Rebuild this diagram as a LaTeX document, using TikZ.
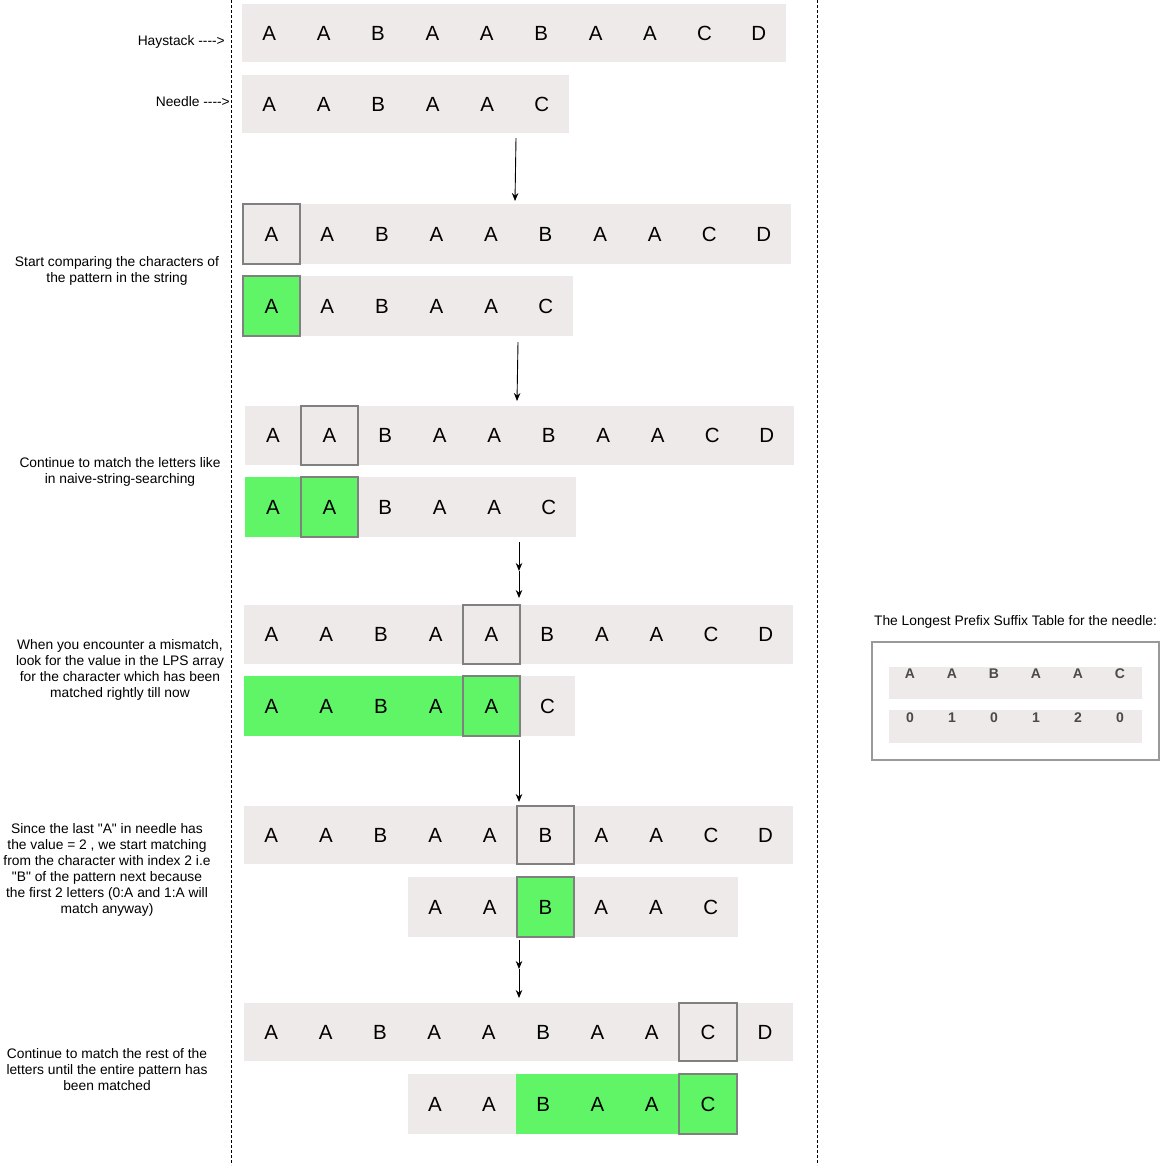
\documentclass[tikz,border=0pt]{standalone}
\usepackage{fontspec}
\setmainfont{Liberation Sans}[Ligatures=TeXOff]
\usetikzlibrary{arrows.meta}
\definecolor{cellgray}{HTML}{EEEAE9}
\definecolor{matchgreen}{HTML}{60F566}
\definecolor{boxgray}{HTML}{808080}
\definecolor{lpstext}{HTML}{4A4A4A}
\tikzset{
  let/.style={inner sep=0pt, font=\fontsize{20.5}{24}\selectfont},
  bg/.style={fill=cellgray, draw=none},
  gr/.style={fill=matchgreen, draw=none},
  hibox/.style={draw=boxgray, line width=2pt, inner sep=0pt},
  lbl/.style={align=center, inner sep=0pt, font=\fontsize{13.8}{16}\selectfont},
  lpsch/.style={inner sep=0pt, text=lpstext, font=\fontsize{14}{16}\selectfont\bfseries},
  conn/.style={-{Stealth[length=8pt,width=6.5pt]}, line width=0.9pt},
  sep/.style={line width=1pt, dash pattern=on 3pt off 2pt},
}
\begin{document}
\begin{tikzpicture}[x=1pt,y=-1pt]
\useasboundingbox (0,0) rectangle (1172,1165);
% separators
\draw[sep] (231,0) -- (231,1165);
\draw[sep] (817,0) -- (817,1165);

% ---------- Row 1: haystack ----------
\path[bg] (242,4) rectangle (786,62);
\foreach \x/\l [count=\i] in {269.2/A,323.6/A,378.0/B,432.4/A,486.8/A,541.2/B,595.6/A,650.0/A,704.4/C,758.8/D}
  \node[let] (ha\i) at (\x,33) {\l};
% ---------- Row 2: needle ----------
\path[bg] (242,75) rectangle (569,133);
\foreach \x/\l [count=\i] in {269.2/A,323.7/A,378.2/B,432.7/A,487.2/A,541.7/C}
  \node[let] (na\i) at (\x,104) {\l};

\node[lbl, anchor=east] (lh) at (225,42) {Haystack ---->};
\node[lbl, anchor=east] (ln) at (230,102) {Needle ---->};

\coordinate (a1s) at (516,138); \coordinate (a1e) at (515,201);
\draw[conn] (a1s) -- (a1e);

% ---------- Row 3 ----------
\path[bg] (243,204) rectangle (791,264);
\node[hibox, minimum width=57pt, minimum height=60pt] (hb3) at (271.5,234) {};
\node[let] (hc1) at (271.5,234) {A};
\foreach \x/\l [count=\i from 2] in {327.3/A,381.9/B,436.4/A,491.0/A,545.5/B,600.1/A,654.7/A,709.2/C,763.8/D}
  \node[let] (hc\i) at (\x,234) {\l};
% ---------- Row 4 ----------
\path[bg] (300,276) rectangle (573,336);
\node[hibox, fill=matchgreen, minimum width=57pt, minimum height=60pt] (nb4) at (271.5,306) {};
\node[let] (nc1) at (271.5,306) {A};
\foreach \x/\l [count=\i from 2] in {327.3/A,381.9/B,436.5/A,491.1/A,545.7/C}
  \node[let] (nc\i) at (\x,306) {\l};

\node[lbl] (l3) at (117,271) {Start comparing the characters of\\the pattern in the string};

\coordinate (a2s) at (518,342); \coordinate (a2e) at (517,401);
\draw[conn] (a2s) -- (a2e);

% ---------- Row 5 ----------
\path[bg] (245,406) rectangle (794,465);
\node[hibox, minimum width=57pt, minimum height=59pt] (hb5) at (329.5,435.5) {};
\node[let] (hd1) at (273,435.5) {A};
\node[let] (hd2) at (329.5,435.5) {A};
\foreach \x/\l [count=\i from 3] in {385.3/B,439.8/A,494.3/A,548.8/B,603.3/A,657.8/A,712.3/C,766.8/D}
  \node[let] (hd\i) at (\x,435.5) {\l};
% ---------- Row 6 ----------
\path[bg] (358,477) rectangle (576,537);
\path[gr] (245,477) rectangle (301,537);
\node[hibox, fill=matchgreen, minimum width=57pt, minimum height=60pt] (nb6) at (329.5,507) {};
\node[let] (nd1) at (273,507) {A};
\node[let] (nd2) at (329.5,507) {A};
\foreach \x/\l [count=\i from 3] in {385.3/B,439.8/A,494.3/A,548.8/C}
  \node[let] (nd\i) at (\x,507) {\l};

\node[lbl] (l5) at (120,472) {Continue to match the letters like\\in naive-string-searching};

\coordinate (a3s) at (519,542); \coordinate (a3m) at (519,571); \coordinate (a3e) at (519,598);
\draw[conn] (a3s) -- (a3m);
\draw[conn] (a3m) -- (a3e);

% ---------- Row 7 ----------
\path[bg] (244,605) rectangle (793,664);
\node[hibox, minimum width=57pt, minimum height=59pt] (hb7) at (491.5,634.5) {};
\foreach \x/\l [count=\i] in {271.4/A,326.1/A,380.9/B,435.6/A,491.5/A,547.3/B,601.9/A,656.5/A,711.1/C,765.7/D}
  \node[let] (he\i) at (\x,634.5) {\l};
% ---------- Row 8 ----------
\path[gr] (244,676) rectangle (463,736);
\path[bg] (520,676) rectangle (575,736);
\node[hibox, fill=matchgreen, minimum width=57pt, minimum height=60pt] (nb8) at (491.5,706) {};
\foreach \x/\l [count=\i] in {271.4/A,326.1/A,380.9/B,435.6/A,491.5/A,547.5/C}
  \node[let] (ne\i) at (\x,706) {\l};

\node[lbl] (l7) at (120,670) {When you encounter a mismatch,\\look for the value in the LPS array\\for the character which has been\\matched rightly till now};

\coordinate (a4s) at (519,740); \coordinate (a4e) at (519,802);
\draw[conn] (a4s) -- (a4e);

% ---------- Row 9 ----------
\path[bg] (244,806) rectangle (793,864);
\node[hibox, minimum width=57pt, minimum height=58pt] (hb9) at (545.5,835) {};
\foreach \x/\l [count=\i] in {271.3/A,325.9/A,380.5/B,435.1/A,489.7/A,545.5/B,601.4/A,656.1/A,710.9/C,765.6/D}
  \node[let] (hf\i) at (\x,835) {\l};
% ---------- Row 10 ----------
\path[bg] (408,877) rectangle (738,937);
\node[hibox, fill=matchgreen, minimum width=57pt, minimum height=60pt] (nb10) at (545.5,907) {};
\foreach \x/\l [count=\i] in {435.2/A,489.7/A,545.5/B,601.3/A,656.0/A,710.7/C}
  \node[let] (nf\i) at (\x,907) {\l};

\node[lbl] (l9) at (107,870) {Since the last "A" in needle has\\the value = 2 , we start matching\\from the character with index 2 i.e\\"B" of the pattern next because\\the first 2 letters (0:A and 1:A will\\match anyway)};

\coordinate (a5s) at (519,940); \coordinate (a5m) at (519,969); \coordinate (a5e) at (519,998);
\draw[conn] (a5s) -- (a5m);
\draw[conn] (a5m) -- (a5e);

% ---------- Row 11 ----------
\path[bg] (244,1003) rectangle (793,1061);
\node[hibox, minimum width=58pt, minimum height=58pt] (hb11) at (708,1032) {};
\foreach \x/\l [count=\i] in {271.2/A,325.6/A,379.9/B,434.3/A,488.7/A,543.1/B,597.4/A,651.8/A,708.0/C,765.0/D}
  \node[let] (hg\i) at (\x,1032) {\l};
% ---------- Row 12 ----------
\path[bg] (408,1074) rectangle (516,1134);
\path[gr] (516,1074) rectangle (679,1134);
\node[hibox, fill=matchgreen, minimum width=58pt, minimum height=60pt] (nb12) at (708,1104) {};
\foreach \x/\l [count=\i] in {435.0/A,489.0/A,543.2/B,597.5/A,651.8/A,708.0/C}
  \node[let] (ng\i) at (\x,1104) {\l};

\node[lbl] (l11) at (107,1070) {Continue to match the rest of the\\letters until the entire pattern has\\been matched};

% ---------- LPS table ----------
\node[lbl] (lpst) at (1015.5,622) {The Longest Prefix Suffix Table for the needle:};
\draw[draw=boxgray!80, line width=1.3pt] (872,642) rectangle (1159,760);
\path[bg] (889,667) rectangle (1142,699);
\path[bg] (889,710) rectangle (1142,743);
\foreach \l/\d [count=\i] in {A/0,A/1,B/0,A/1,A/2,C/0}{
  \node[lpsch] (lp\i) at ({910+42*(\i-1)},674) {\l};
  \node[lpsch] (lv\i) at ({910+42*(\i-1)},718) {\d};
}
\end{tikzpicture}
\end{document}
